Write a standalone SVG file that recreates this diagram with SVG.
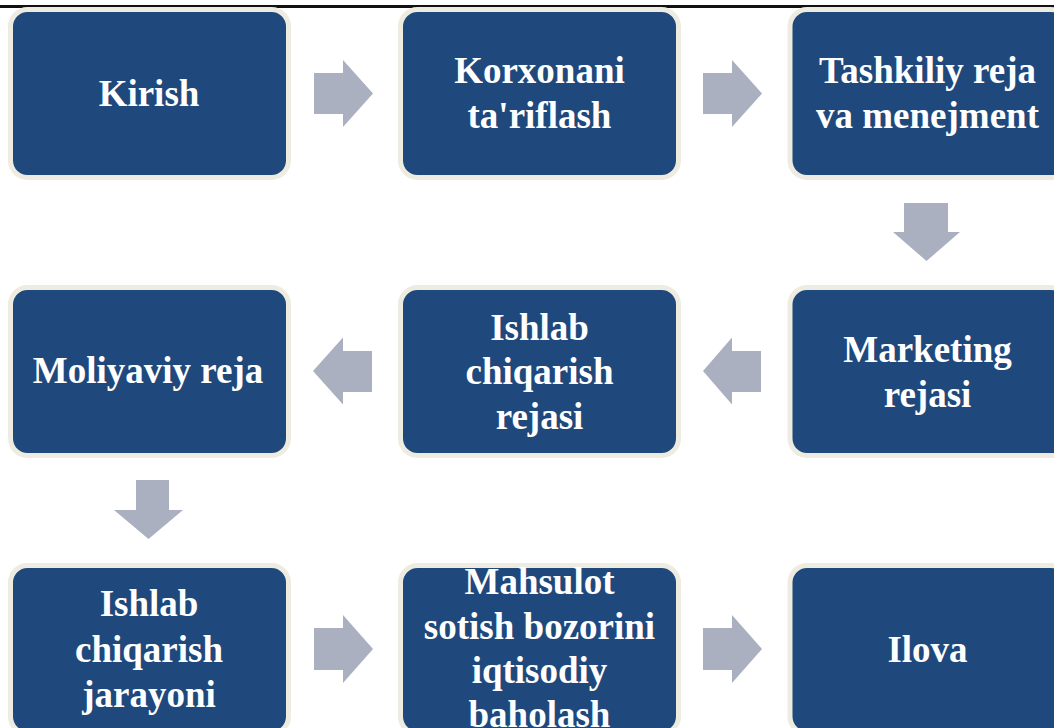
<svg xmlns="http://www.w3.org/2000/svg" width="1054" height="728" viewBox="0 0 1054 728">
  <style>
    .box { fill: #1f497d; stroke: #eeece1; stroke-width: 5; }
    .lbl { fill: #ffffff; font-family: "Liberation Serif", "Times New Roman", serif; font-weight: bold; font-size: 37px; text-anchor: middle; }
    .arr { fill: #aab0bf; stroke: none; }
  </style>
  <rect x="0" y="0" width="1054" height="728" fill="#ffffff"/>
  <line x1="0" y1="6.5" x2="1054" y2="6.5" stroke="#111111" stroke-width="3"/>

  <g id="connectors">
    <polygon class="arr" points="314,73 343,73 343,60 373,93.5 343,127 343,114 314,114"/>
    <polygon class="arr" points="703,73 732,73 732,60 762,93.5 732,127 732,114 703,114"/>
    <polygon class="arr" points="904,203 948,203 948,232 960,232 926.5,261 893,232 904,232"/>
    <polygon class="arr" points="761,351 732,351 732,337.5 703,371 732,404.5 732,392 761,392"/>
    <polygon class="arr" points="372,351 343,351 343,337.5 313,371 343,404.5 343,392 372,392"/>
    <polygon class="arr" points="136,480 169,480 169,510 183,510 148.5,539 114,510 136,510"/>
    <polygon class="arr" points="314,628 343,628 343,615 373,649 343,683 343,670 314,670"/>
    <polygon class="arr" points="703,628 732,628 732,615 762,649 732,683 732,670 703,670"/>
  </g>

  <g id="n1">
    <rect class="box" x="10.5" y="9.5" width="278" height="168" rx="17"/>
    <text class="lbl" x="149" y="106">Kirish</text>
  </g>
  <g id="n2">
    <rect class="box" x="400.5" y="9.5" width="278" height="168" rx="17"/>
    <text class="lbl" x="539.5" y="83">Korxonani</text>
    <text class="lbl" x="539.5" y="128">ta'riflash</text>
  </g>
  <g id="n3">
    <rect class="box" x="790" y="9.5" width="278" height="168" rx="17"/>
    <text class="lbl" x="927.5" y="83">Tashkiliy reja</text>
    <text class="lbl" x="927.5" y="128">va menejment</text>
  </g>
  <g id="n4">
    <rect class="box" x="790" y="287.5" width="278" height="168" rx="17"/>
    <text class="lbl" x="927.5" y="362">Marketing</text>
    <text class="lbl" x="927.5" y="407">rejasi</text>
  </g>
  <g id="n5">
    <rect class="box" x="400.5" y="287.5" width="278" height="168" rx="17"/>
    <text class="lbl" x="539.5" y="339.5">Ishlab</text>
    <text class="lbl" x="539.5" y="384">chiqarish</text>
    <text class="lbl" x="539.5" y="428.5">rejasi</text>
  </g>
  <g id="n6">
    <rect class="box" x="10.5" y="287.5" width="278" height="168" rx="17"/>
    <text class="lbl" x="148" y="383">Moliyaviy reja</text>
  </g>
  <g id="n7">
    <rect class="box" x="10.5" y="565.5" width="278" height="168" rx="17"/>
    <text class="lbl" x="149" y="616">Ishlab</text>
    <text class="lbl" x="149" y="662">chiqarish</text>
    <text class="lbl" x="149" y="707">jarayoni</text>
  </g>
  <g id="n8">
    <rect class="box" x="400.5" y="565.5" width="278" height="168" rx="17"/>
    <text class="lbl" x="539.5" y="594">Mahsulot</text>
    <text class="lbl" x="539.5" y="639">sotish bozorini</text>
    <text class="lbl" x="539.5" y="683">iqtisodiy</text>
    <text class="lbl" x="539.5" y="727">baholash</text>
  </g>
  <g id="n9">
    <rect class="box" x="790" y="565.5" width="278" height="168" rx="17"/>
    <text class="lbl" x="927.5" y="662">Ilova</text>
  </g>
</svg>
